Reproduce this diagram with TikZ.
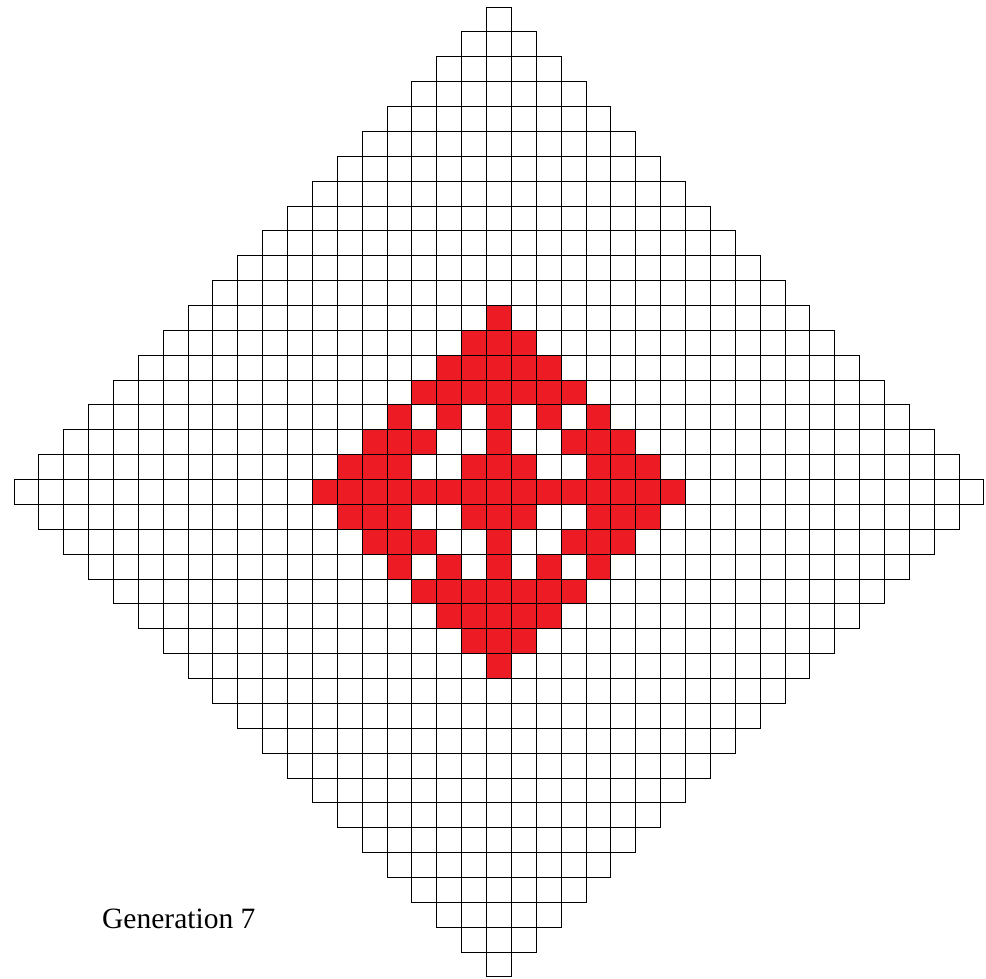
\documentclass[tikz,border=0pt]{standalone}
\usepackage{fontspec}
\setmainfont{Liberation Serif}
\definecolor{cellred}{RGB}{237,28,36}
\begin{document}
\begin{tikzpicture}[x=1pt,y=-1pt,
  gridcell/.style={draw=black,line width=1pt,fill=white},
  redcell/.style={draw=black,line width=1pt,fill=cellred},
  label/.style={anchor=base west,inner sep=0pt,font=\fontsize{29.5}{35}\selectfont}]
\def\s{24.87}
\fill[white] (0,0) rectangle (986,978);
\useasboundingbox (0,0) rectangle (986,978);
\begin{scope}[shift={(499,492)}]
  \foreach \i in {-19,...,19}{
    \pgfmathtruncatemacro\m{19-abs(\i)}
    \pgfmathtruncatemacro\mm{-\m}
    \foreach \j in {\mm,...,\m}{
      \draw[gridcell] ({(\i-0.5)*\s},{(\j-0.5)*\s}) rectangle ++(\s,\s);
    }
  }
  \newcommand\redat[2]{\draw[redcell] ({(#1-0.5)*\s},{(#2-0.5)*\s}) rectangle ++(\s,\s);}
  \foreach \i in {-7,...,7}{\redat{\i}{0}}
  \foreach \j in {-1,1}{\foreach \i in {-6,-5,-4,-1,0,1,4,5,6}{\redat{\i}{\j}}}
  \foreach \j in {-2,2}{\foreach \i in {-5,-4,-3,0,3,4,5}{\redat{\i}{\j}}}
  \foreach \j in {-3,3}{\foreach \i in {-4,-2,0,2,4}{\redat{\i}{\j}}}
  \foreach \j in {-4,4}{\foreach \i in {-3,...,3}{\redat{\i}{\j}}}
  \foreach \j in {-5,5}{\foreach \i in {-2,...,2}{\redat{\i}{\j}}}
  \foreach \j in {-6,6}{\foreach \i in {-1,0,1}{\redat{\i}{\j}}}
  \foreach \j in {-7,7}{\redat{0}{\j}}
\end{scope}
\node[label] (gen) at (102,928) {Generation 7};
\end{tikzpicture}
\end{document}
